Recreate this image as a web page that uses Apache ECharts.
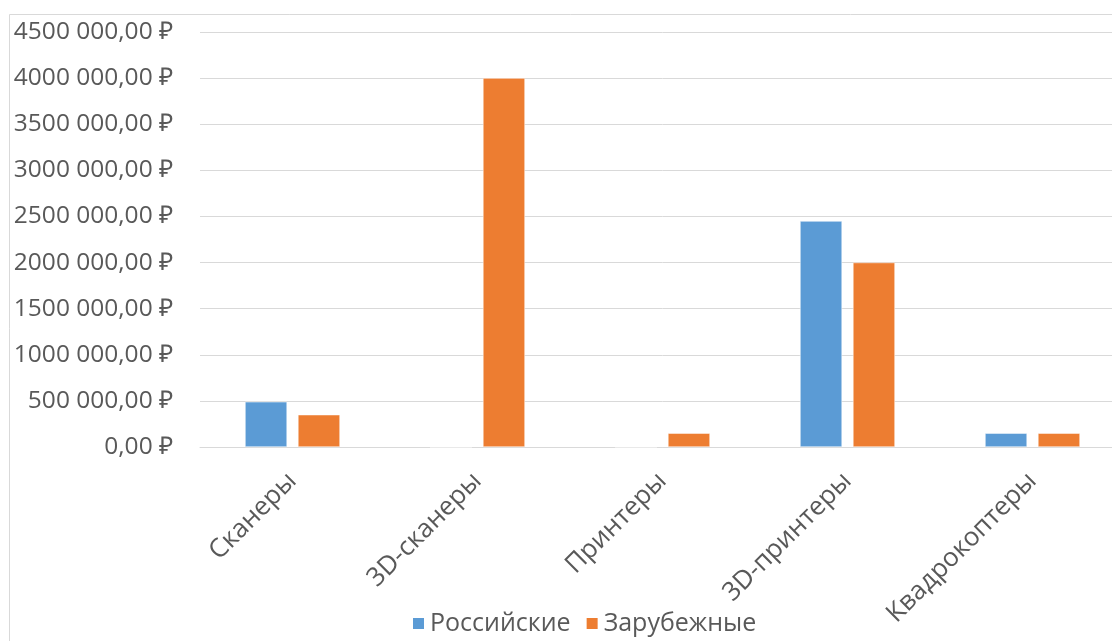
<!DOCTYPE html>
<html>
<head>
<meta charset="utf-8">
<script src="https://cdn.jsdelivr.net/npm/echarts@6/dist/echarts.min.js"></script>
<style>html,body{margin:0;padding:0;background:#fff;overflow:hidden;}#c{width:1130px;height:641px;}</style>
</head>
<body>
<div id="c"></div>
<script>
const categories = ['Сканеры', '3D-сканеры', 'Принтеры', '3D-принтеры', 'Квадрокоптеры'];
const seriesNames = ['Российские', 'Зарубежные'];
const russian = [490000, 0, 0, 2450000, 150000];
const foreign = [350000, 4000000, 150000, 2000000, 150000];
const yTickLabels = ['0,00 ₽', '500 000,00 ₽', '1000 000,00 ₽', '1500 000,00 ₽', '2000 000,00 ₽',
  '2500 000,00 ₽', '3000 000,00 ₽', '3500 000,00 ₽', '4000 000,00 ₽', '4500 000,00 ₽'];
const yStep = 500000;

const font = 'Open Sans';
const chart = echarts.init(document.getElementById('c'));
chart.setOption({
  animation: false,
  backgroundColor: '#fff',
  graphic: [{
    type: 'rect', silent: true, z: -1,
    shape: { x: 9.5, y: 14.5, width: 1200, height: 700 },
    style: { fill: 'none', stroke: '#d9d9d9', lineWidth: 1 }
  }],
  legend: {
    data: seriesNames,
    top: 606,
    left: 406,
    icon: 'rect',
    itemWidth: 13,
    itemHeight: 13,
    itemGap: 14,
    textStyle: { color: '#595959', fontSize: 25, fontFamily: font }
  },
  grid: { left: 200, top: 32, width: 925, bottom: 194, containLabel: false },
  xAxis: {
    type: 'category',
    data: categories,
    axisLine: { lineStyle: { color: '#d9d9d9', width: 1 } },
    axisTick: { show: false },
    axisLabel: { rotate: 45, margin: 30, color: '#595959', fontSize: 26, fontFamily: font, interval: 0 }
  },
  yAxis: {
    type: 'value',
    min: 0, max: 4500000, interval: yStep,
    axisLine: { show: false },
    axisTick: { show: false },
    splitLine: { lineStyle: { color: '#d9d9d9', width: 1 } },
    axisLabel: {
      margin: 27, color: '#595959', fontSize: 24.5, fontFamily: font,
      formatter: v => yTickLabels[Math.round(v / yStep)]
    }
  },
  series: [
    { name: seriesNames[0], type: 'bar', data: russian, barWidth: 42, barGap: '26%',
      itemStyle: { color: '#5B9BD5', borderColor: '#fff', borderWidth: 0.5 } },
    { name: seriesNames[1], type: 'bar', data: foreign, barWidth: 42,
      itemStyle: { color: '#ED7D31', borderColor: '#fff', borderWidth: 0.5 } }
  ]
});
</script>
</body>
</html>
